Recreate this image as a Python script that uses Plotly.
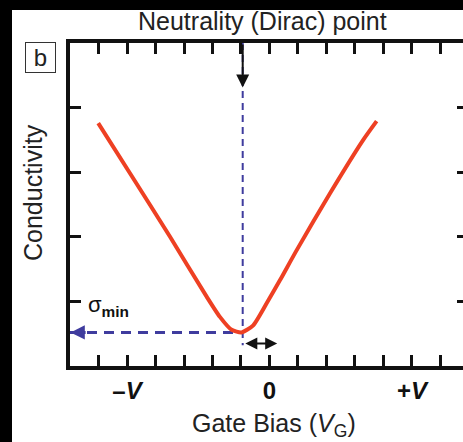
import plotly.graph_objects as go

# ---- data ----
gate_bias = [-6.01, -4.89, -3.49, -2.20, -1.74, -1.33, -0.98, -0.57, -0.10, 0.37, 0.95, 2.12, 3.29, 3.76]
conductivity = [3.76, 2.98, 2.00, 1.07, 0.76, 0.56, 0.52, 0.63, 0.97, 1.33, 1.79, 2.67, 3.50, 3.79]
dirac_x = -0.94
sigma_min = 0.52
x_tick_vals = [-5, 0, 5]
x_tick_text = ["<b>–<i>V</i></b>", "<b>0</b>", "<b>+<i>V</i></b>"]
y_tick_vals = [1, 2, 3, 4]

X_RANGE = [-7, 6.79]
Y_RANGE = [0, 5]
BLUE = "#3f3c9e"
RED = "#ee4023"
FONT = "Liberation Sans, Arial, Helvetica, sans-serif"

W, H = 463, 442
ML, MR, MT, MB = 70, 0, 43, 76
PW, PH = W - ML - MR, H - MT - MB


def px_x(p):
    return (p - ML) / PW


def px_y(p):
    return (H - MB - p) / PH


fig = go.Figure()

# dashed guide lines
fig.add_trace(go.Scatter(x=[dirac_x, dirac_x], y=[Y_RANGE[1], 0.32], mode="lines",
                         line=dict(color=BLUE, width=2, dash="7px,5px"),
                         hoverinfo="skip", showlegend=False))
fig.add_trace(go.Scatter(x=[X_RANGE[0], dirac_x], y=[sigma_min, sigma_min], mode="lines",
                         line=dict(color=BLUE, width=3, dash="10px,7px"),
                         hoverinfo="skip", showlegend=False))
# conductivity curve
fig.add_trace(go.Scatter(x=gate_bias, y=conductivity, mode="lines",
                         line=dict(color=RED, width=4, shape="spline", smoothing=0.6),
                         showlegend=False))
# dummy trace for right tick axis
fig.add_trace(go.Scatter(x=[dirac_x], y=[sigma_min], yaxis="y2", mode="markers",
                         marker=dict(opacity=0), hoverinfo="skip", showlegend=False))


def label(x, y, text, size, **kw):
    d = dict(x=px_x(x), y=px_y(y), xref="paper", yref="paper", text=text,
             xanchor="center", yanchor="middle", showarrow=False,
             font=dict(family=FONT, size=size, color="#222"))
    d.update(kw)
    return d


annotations = [
    label(262, 21, "Neutrality (Dirac) point", 25),
    label(40, 58, "b", 24, bordercolor="#333", borderwidth=1, width=27, height=27,
          bgcolor="white"),
    label(33, 193, "Conductivity", 25, textangle=-90),
    label(274, 425, "Gate Bias (<i>V</i><sub>G</sub>)", 25),
    dict(x=-6.45, y=0.93, xref="x", yref="y", text="σ<sub><b>min</b></sub>", xanchor="left",
         yanchor="middle", showarrow=False, font=dict(family=FONT, size=22, color="#111")),
    # black arrow down onto the Dirac point line
    dict(x=dirac_x, y=4.31, ax=dirac_x, ay=5.0, xref="x", yref="y", axref="x", ayref="y",
         text="", showarrow=True, arrowhead=2, arrowsize=1.3, arrowwidth=2, arrowcolor="#111"),
    # blue arrowhead at the conductivity axis
    dict(x=X_RANGE[0] + 0.02, y=sigma_min, ax=X_RANGE[0] + 0.6, ay=sigma_min, xref="x", yref="y",
         axref="x", ayref="y", text="", showarrow=True, arrowhead=2, arrowsize=0.95,
         arrowwidth=3, arrowcolor=BLUE),
    # double arrow for the shift
    dict(x=0.27, y=0.35, ax=dirac_x + 0.04, ay=0.35, xref="x", yref="y", axref="x", ayref="y",
         text="", showarrow=True, arrowhead=2, startarrowhead=2, arrowside="end+start",
         arrowsize=1.2, startarrowsize=1.2, arrowwidth=2, arrowcolor="#111"),
]

shapes = [
    dict(type="rect", xref="paper", yref="paper", x0=px_x(0), x1=px_x(12),
         y0=px_y(H), y1=px_y(0), fillcolor="black", line=dict(width=0), layer="above"),
    dict(type="rect", xref="paper", yref="paper", x0=px_x(0), x1=px_x(W),
         y0=px_y(10), y1=px_y(0), fillcolor="black", line=dict(width=0), layer="above"),
]

fig.update_layout(
    width=W, height=H,
    margin=dict(l=ML, r=MR, t=MT, b=MB, pad=0),
    paper_bgcolor="white", plot_bgcolor="white",
    showlegend=False,
    font=dict(family=FONT, color="#111"),
    annotations=annotations,
    shapes=shapes,
    xaxis=dict(range=X_RANGE, showgrid=False, zeroline=False, showline=True,
               linecolor="#111", linewidth=3.5, mirror="allticks",
               ticks="inside", tickvals=x_tick_vals, ticktext=x_tick_text,
               ticklen=11, tickwidth=3, tickcolor="#111",
               tickfont=dict(family=FONT, size=24, color="#111"),
               minor=dict(dtick=1, tick0=0, ticks="inside", ticklen=5, tickwidth=2.5,
                          tickcolor="#111", showgrid=False)),
    yaxis=dict(range=Y_RANGE, showgrid=False, zeroline=False, showline=True,
               linecolor="#111", linewidth=3.5, ticks="inside", tickvals=y_tick_vals,
               ticklen=11, tickwidth=3, tickcolor="#111", showticklabels=False),
    yaxis2=dict(range=Y_RANGE, overlaying="y", side="right", showgrid=False, zeroline=False,
                showline=False, ticks="inside", tickvals=y_tick_vals, ticklen=6,
                tickwidth=3, tickcolor="#111", showticklabels=False),
)

fig.write_html("out.html", config={"displayModeBar": False},
               post_script="document.body.style.margin='0';document.body.style.overflow='hidden';")
